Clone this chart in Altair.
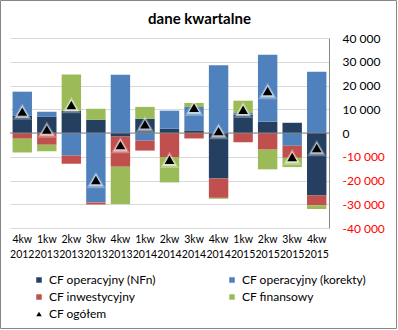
import altair as alt
import pandas as pd

quarters = ["4kw 2012", "1kw 2013", "2kw 2013", "3kw 2013", "4kw 2013", "1kw 2014", "2kw 2014",
            "3kw 2014", "4kw 2014", "1kw 2015", "2kw 2015", "3kw 2015", "4kw 2015"]
cf_nfn = [7400, 6900, 9400, 5600, -1500, 6000, 1800, 1100, -19200, 7700, 4800, 4300, -26300]
cf_korekty = [10000, 2100, -9500, -29300, 24500, -3200, 7600, 9850, 28500, 700, 28200, -5350, 25800]
cf_inwest = [-2400, -4900, -3400, -800, -12700, -4200, -10300, -2300, -8100, -3900, -7000, -5100, -4200]
cf_finans = [-5800, -2800, 15200, 4600, -15700, 5000, -10500, 1700, -400, 5200, -8300, -3900, -1500]
cf_ogolem = [9000, 1500, 11800, -19800, -5100, 3700, -11300, 10600, 800, 9800, 17700, -10100, -6300]

series_names = ["CF operacyjny (NFn)", "CF operacyjny (korekty)", "CF inwestycyjny", "CF finansowy", "CF ogółem"]
series_colors = ["#243F60", "#4F81BD", "#C0504D", "#9BBB59", "#000000"]
series_shapes = ["square", "square", "square", "square", "triangle-up"]
y_ticks = [-40000, -30000, -20000, -10000, 0, 10000, 20000, 30000, 40000]

rows = []
for i, q in enumerate(quarters):
    for k, vals in enumerate([cf_nfn, cf_korekty, cf_inwest, cf_finans]):
        rows.append({"q": q, "series": series_names[k], "value": vals[i], "ord": k})
bars_df = pd.DataFrame(rows)
tot_df = pd.DataFrame({"q": quarters, "value": cf_ogolem, "series": series_names[4]})

FONT = "Lato"

x_scale = alt.Scale(paddingInner=0.21, paddingOuter=0.105)
x_axis = alt.Axis(title=None, labelExpr="split(datum.label, ' ')", labelAngle=0,
                  labelFont=FONT, labelFontSize=10.5, labelLineHeight=15, labelPadding=6,
                  labelColor="#000000", labelOverlap=False, domain=False, ticks=False, grid=False)
y_scale = alt.Scale(domain=[-40000, 40000], nice=False)
y_axis = alt.Axis(
    orient="right", title=None, values=y_ticks, grid=True, gridColor="#D9D9D9", gridWidth=1,
    domain=True, domainColor="#868686", ticks=False, tickSize=0, labelPadding=13,
    labelAlign="left", labelFont=FONT, labelFontSize=12, labelOverlap=False,
    labelExpr="(datum.value < 0 ? '-' : '') + replace(format(abs(datum.value), ',d'), ',', ' ')",
    labelColor={"condition": {"test": "datum.value < 0", "value": "#FF0000"}, "value": "#000000"},
)


def X():
    return alt.X("q:N", sort=quarters, scale=x_scale, axis=x_axis)


def Y(field="value:Q", **kw):
    return alt.Y(field, scale=y_scale, axis=y_axis, **kw)


def make_legend():
    return alt.Legend(
        title=None, orient="none", legendX=23, legendY=236, columns=2, columnPadding=70,
        direction="horizontal", rowPadding=5, padding=0, symbolSize=30, symbolStrokeWidth=0,
        symbolOpacity=1, labelFont=FONT, labelFontSize=12, labelColor="#000000", labelOffset=4,
        labelLimit=300,
    )


color_scale = alt.Scale(domain=series_names, range=series_colors)
shape_scale = alt.Scale(domain=series_names, range=series_shapes)

border = alt.Chart(pd.DataFrame({"a": [0]})).mark_rect(
    fillOpacity=0, stroke="#868686", strokeWidth=1
).encode(x=alt.value(-9.5), x2=alt.value(386.5), y=alt.value(-37.5), y2=alt.value(290.5))

bars = alt.Chart(bars_df).mark_bar(size=19.4).encode(
    x=X(),
    y=Y(stack="zero"),
    color=alt.Color("series:N", scale=color_scale, legend=make_legend()),
    order=alt.Order("ord:Q", sort="ascending"),
)

zero = alt.Chart(pd.DataFrame({"z": [0]})).mark_rule(color="#868686", strokeWidth=1).encode(
    y=Y("z:Q")
)

glow1 = alt.Chart(tot_df).mark_point(shape="triangle-up", filled=True, size=360, color="#FFFFFF",
                                     opacity=0.3, strokeWidth=0).encode(x=X(), y=Y())
glow2 = alt.Chart(tot_df).mark_point(shape="triangle-up", filled=True, size=210, color="#FFFFFF",
                                     opacity=0.5, strokeWidth=0).encode(x=X(), y=Y())
tri = alt.Chart(tot_df).mark_point(filled=True, size=95, opacity=1, strokeWidth=0).encode(
    x=X(), y=Y(),
    color=alt.Color("series:N", scale=color_scale, legend=make_legend()),
    shape=alt.Shape("series:N", scale=shape_scale, legend=make_legend()),
)

chart = alt.layer(border, bars, zero, glow1, glow2, tri).properties(
    width=319, height=190,
    title=alt.TitleParams("dane kwartalne", font=FONT, fontSize=15, fontWeight="bold",
                          anchor="middle", dx=30, offset=-27, color="#000000"),
    padding={"left": 10, "top": 38, "right": 69, "bottom": 102},
    autosize=alt.AutoSizeParams(type="none"),
    background="#FFFFFF",
).configure_view(strokeWidth=0)

chart.save("out.html", embed_options={"renderer": "svg", "actions": False})
